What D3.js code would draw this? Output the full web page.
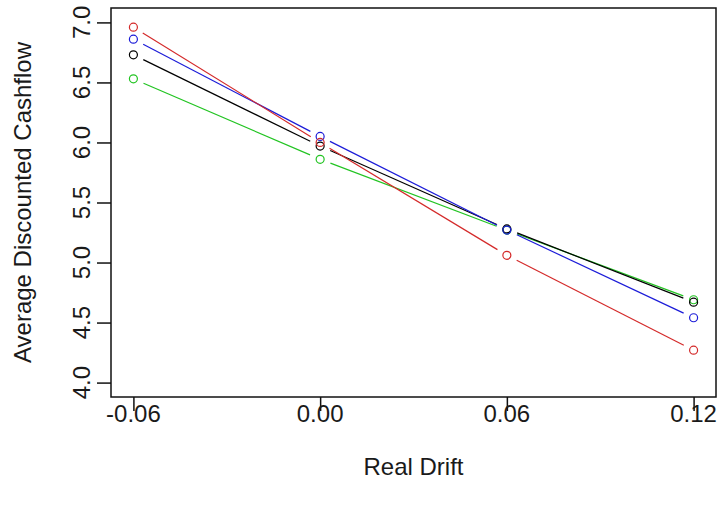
<!DOCTYPE html>
<html>
<head>
<meta charset="utf-8">
<script src="https://cdn.jsdelivr.net/npm/d3@7"></script>
<style>
  html, body { margin: 0; padding: 0; background: #fff; }
  svg { display: block; }
  text { font-family: "Liberation Sans", Arial, sans-serif; fill: #1a1a1a; }
</style>
</head>
<body>
<svg id="chart" width="719" height="506"></svg>
<script>
// Real drift levels on the x axis
const drift = [-0.06, 0.00, 0.06, 0.12];
const xTicks = [-0.06, 0.00, 0.06, 0.12];
const xTickLabels = ["-0.06", "0.00", "0.06", "0.12"];
const yTicks = [4.0, 4.5, 5.0, 5.5, 6.0, 6.5, 7.0];
const yTickLabels = ["4.0", "4.5", "5.0", "5.5", "6.0", "6.5", "7.0"];

// Average discounted cashflow for each scenario
const seriesRed   = [6.96, 6.00, 5.06, 4.27];
const seriesBlue  = [6.86, 6.05, 5.27, 4.54];
const seriesBlack = [6.73, 5.97, 5.28, 4.67];
const seriesGreen = [6.53, 5.86, 5.27, 4.69];

const series = [
  { values: seriesGreen, color: "#22c422" },
  { values: seriesBlack, color: "#000000" },
  { values: seriesBlue,  color: "#1c1cd8" },
  { values: seriesRed,   color: "#d42a2a" }
];

const svg = d3.select("#chart");
const plotLeft = 111, plotRight = 716, plotTop = 8, plotBottom = 397;

// 4% padding around the data range, like R's default axis style
const x = d3.scaleLinear().domain([-0.0672, 0.1272]).range([plotLeft, plotRight]);
const y = d3.scaleLinear().domain([3.88, 7.12]).range([plotBottom, plotTop]);

const fontSize = 24;
const tickLen = 14;

// Bottom axis
const xAxis = svg.append("g").attr("transform", `translate(0,${plotBottom})`)
  .call(d3.axisBottom(x).tickValues(xTicks).tickSize(tickLen).tickFormat(""));
xAxis.select(".domain").remove();
xAxis.selectAll(".tick line").attr("stroke", "#111").attr("stroke-width", 1.5);

svg.append("g").selectAll("text").data(xTicks).join("text")
  .attr("x", d => x(d))
  .attr("y", 413)
  .attr("text-anchor", "middle")
  .attr("dominant-baseline", "central")
  .attr("font-size", fontSize)
  .text((d, i) => xTickLabels[i]);

// Left axis
const yAxis = svg.append("g").attr("transform", `translate(${plotLeft},0)`)
  .call(d3.axisLeft(y).tickValues(yTicks).tickSize(tickLen).tickFormat(""));
yAxis.select(".domain").remove();
yAxis.selectAll(".tick line").attr("stroke", "#111").attr("stroke-width", 1.5);

svg.append("g").selectAll("text").data(yTicks).join("text")
  .attr("transform", d => `translate(81,${y(d)}) rotate(-90)`)
  .attr("text-anchor", "middle")
  .attr("dominant-baseline", "central")
  .attr("font-size", fontSize)
  .text((d, i) => yTickLabels[i]);

// Axis titles
svg.append("text")
  .attr("x", (plotLeft + plotRight) / 2)
  .attr("y", 466)
  .attr("text-anchor", "middle")
  .attr("dominant-baseline", "central")
  .attr("font-size", fontSize)
  .text("Real Drift");

svg.append("text")
  .attr("transform", `translate(22,${(plotTop + plotBottom) / 2}) rotate(-90)`)
  .attr("text-anchor", "middle")
  .attr("dominant-baseline", "central")
  .attr("font-size", fontSize)
  .text("Average Discounted Cashflow");

// Lines with gaps around the points (type = "b")
const gap = 11;
series.forEach(s => {
  const pts = drift.map((d, i) => [x(d), y(s.values[i])]);
  const segs = d3.pairs(pts).map(([a, b]) => {
    const dx = b[0] - a[0], dy = b[1] - a[1];
    const len = Math.hypot(dx, dy);
    const ux = dx / len, uy = dy / len;
    return [a[0] + ux * gap, a[1] + uy * gap, b[0] - ux * gap, b[1] - uy * gap];
  });
  svg.append("g").selectAll("line").data(segs).join("line")
    .attr("x1", d => d[0]).attr("y1", d => d[1])
    .attr("x2", d => d[2]).attr("y2", d => d[3])
    .attr("stroke", s.color).attr("stroke-width", 1.2);
  svg.append("g").selectAll("circle").data(pts).join("circle")
    .attr("cx", d => d[0]).attr("cy", d => d[1]).attr("r", 4)
    .attr("fill", "none").attr("stroke", s.color).attr("stroke-width", 1.2);
});

// Plot frame
svg.append("rect")
  .attr("x", plotLeft).attr("y", plotTop)
  .attr("width", plotRight - plotLeft).attr("height", plotBottom - plotTop)
  .attr("fill", "none").attr("stroke", "#111").attr("stroke-width", 1.5);
</script>
</body>
</html>
